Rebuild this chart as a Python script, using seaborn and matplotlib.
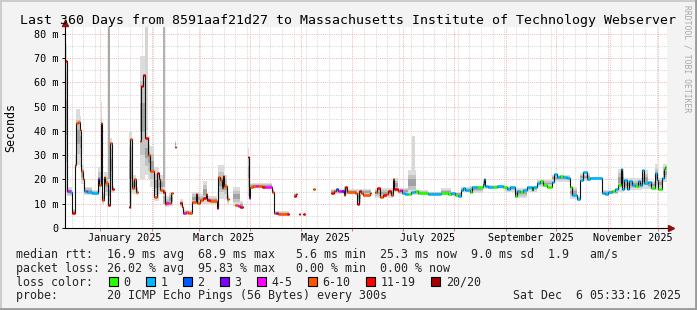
import numpy as np
import pandas as pd
import matplotlib
matplotlib.use("Agg")
import matplotlib.pyplot as plt
import matplotlib.dates as mdates
import matplotlib.transforms as mtrans
from matplotlib.ticker import MultipleLocator, FuncFormatter, NullFormatter
from matplotlib.collections import LineCollection, PolyCollection
from matplotlib.patches import Rectangle
from matplotlib.lines import Line2D
import seaborn as sns

# ---------------- data ----------------
START = pd.Timestamp("2024-12-11 05:33:16")
SPAN_DAYS = 360

# median rtt steps: start day (since START), value in ms (nan = no data), lost pings of 20
med_day = [0.0, 1.3, 2.8, 4.0, 5.6, 6.4, 7.6, 8.8, 9.4, 10.8, 11.2, 12.4, 13.0, 16.0, 19.3, 20.2,
           21.1, 22.0, 23.3, 23.9, 25.4, 27.0, 27.9, 29.4, 38.3, 38.7, 40.2, 41.4, 42.3, 43.5,
           44.7, 45.5, 46.7, 47.9, 49.5, 50.7, 53.1, 54.6, 55.9, 56.9, 58.4, 59.5, 60.5, 62.2,
           63.4, 64.4, 65.5, 66.1, 68.6, 70.1, 70.7, 72.2, 73.7, 75.8, 77.9, 78.5, 80.3, 82.1,
           84.2, 84.9, 86.6, 91.0, 91.6, 92.8, 93.7, 94.3, 95.1, 96.6, 98.2, 101.5, 103.5, 104.5,
           106.3, 109.3, 109.8, 110.8, 112.6, 114.1, 115.3, 117.7, 119.5, 123.9, 124.8, 126.3,
           127.2, 132.6, 133.8, 136.8, 138.0, 138.9, 139.8, 140.4, 142.2, 143.4, 148.2, 149.1,
           158.8, 160.7, 162.1, 163.1, 164.7, 166.9, 167.3, 168.7, 173.5, 174.7, 175.9, 176.7,
           178.1, 182.1, 182.7, 185.4, 186.6, 188.4, 190.1, 192.0, 193.0, 194.8, 196.0, 196.6,
           199.0, 200.0, 201.4, 203.2, 205.0, 206.8, 209.2, 211.0, 217.0, 220.0, 224.7, 228.9,
           230.9, 233.1, 234.9, 236.7, 237.9, 239.1, 242.1, 243.3, 246.3, 249.9, 250.8, 251.2,
           252.9, 255.9, 258.2, 261.8, 264.2, 266.0, 269.0, 270.4, 272.0, 274.0, 276.2, 279.2,
           280.0, 282.2, 284.0, 285.9, 288.2, 291.1, 292.5, 294.0, 295.9, 297.9, 299.9, 301.9,
           302.9, 305.9, 307.9, 309.9, 311.9, 313.9, 320.9, 322.9, 324.8, 326.9, 328.8, 330.8,
           332.4, 333.2, 334.4, 335.8, 337.2, 338.8, 340.8, 342.4, 343.8, 345.2, 346.2, 348.4,
           350.4, 352.8, 353.8, 354.7, 356.8, 358.1, 358.7]
nan = float("nan")
med_ms = [68.9, 15.4, 15.0, 6.3, 25.9, 43.3, 43.7, 40.3, 23.5, 20.2, 15.4, 15.1, 14.8, 14.5, 20.2, 17.7,
          43.3, 11.5, 21.1, 18.4, 9.5, 34.9, 15.9, nan, 8.8, 36.9, 16.6, 20.2, 15.0, nan,
          35.8, 58.4, 63.0, 37.2, 30.0, 23.6, 12.6, 22.5, 20.4, 15.5, 15.0, 9.7, 10.4, 10.4,
          14.5, nan, 33.5, nan, 10.2, 8.5, 6.3, 6.5, 6.0, 10.8, 13.9, 10.2, 11.5, 12.2,
          14.0, 11.5, 11.1, 8.1, 20.9, 19.8, 16.3, 21.4, 17.3, 11.8, nan, 9.5, 9.1, 8.7,
          nan, 29.3, 12.2, 17.0, 17.3, 17.5, 17.3, 16.7, 17.0, 15.0, 6.0, 6.3,
          5.6, 5.6, nan, 13.3, 13.9, nan, 5.7, nan, 5.7, nan, 15.9, nan,
          14.5, 15.2, 16.0, 15.4, 15.2, 13.8, 17.0, 15.0, 14.5, 9.9, 15.2, 14.5,
          13.6, 14.5, nan, 15.0, 16.3, 12.9, 13.6, 14.2, 15.2, 13.6, 20.4, 16.0,
          15.2, 15.6, 14.5, 14.2, 14.0, 14.8, 15.2, 14.5, 13.9, 14.2, 14.6, 14.0,
          14.5, 13.6, 13.4, 15.6, 16.3, 15.6, 15.0, 16.7, 16.7, 18.0, 20.4, 17.3,
          16.7, 17.0, 17.4, 17.1, 15.9, 17.0, 13.2, 15.4, 15.0, 15.6, 16.7, 15.6,
          17.1, 18.7, 19.3, 17.8, 17.1, 19.0, 22.1, 21.1, 21.5, 21.1, 20.7, 16.7,
          13.6, 11.8, 19.8, 22.9, 20.4, 20.7, 14.3, 14.0, 14.7, 15.4, 16.2, 17.7,
          24.2, 16.2, 19.8, 16.2, 19.2, 17.7, 17.4, 19.2, 17.7, 23.9, 18.4, 19.0,
          16.5, 22.5, 19.8, 16.2, 20.7, 24.2, 25.3]
med_loss = [15, 4, 1, 15, 8, 8, 8, 8, 8, 8, 1, 4, 1, 1, 3, 8,
            8, 8, 8, 8, 15, 8, 15, 0, 15, 8, 8, 8, 8, 0,
            8, 15, 15, 15, 8, 8, 8, 15, 8, 8, 15, 8, 4, 8,
            8, 0, 8, 0, 15, 8, 4, 8, 8, 8, 15, 8, 8, 15,
            8, 15, 8, 15, 8, 8, 8, 15, 8, 8, 0, 8, 4, 15,
            0, 15, 4, 8, 8, 4, 8, 15, 4, 8, 8, 3,
            8, 15, 0, 15, 8, 0, 15, 0, 15, 0, 8, 0,
            15, 8, 2, 4, 3, 8, 15, 8, 8, 15, 15, 8,
            8, 8, 0, 8, 15, 8, 15, 8, 15, 8, 8, 15,
            8, 4, 1, 1, 0, 1, 0, 0, 1, 1, 0, 0,
            1, 0, 1, 1, 1, 1, 0, 1, 0, 1, 1, 1,
            1, 0, 1, 0, 1, 1, 0, 1, 0, 1, 1, 0,
            1, 1, 0, 0, 0, 1, 1, 1, 0, 1, 1, 0,
            1, 1, 1, 1, 1, 1, 1, 1, 1, 0, 1, 0,
            1, 1, 1, 1, 1, 1, 0, 1, 1, 1, 1, 1,
            0, 1, 1, 0, 1, 0, 0]

# smoke (spread of the 20 pings): start day, low ms, high ms (nan = none)
smoke_day = [0.0, 1.3, 4.0, 5.6, 6.4, 8.8, 9.4, 11.2, 16.0, 19.3, 21.1, 22.0, 23.3, 25.4, 26.9,
             27.9, 29.4, 38.3, 40.2, 42.3, 43.5, 44.7, 47.9, 49.5, 50.7, 53.1, 55.9, 58.4, 59.5,
             62.2, 64.4, 65.5, 66.1, 68.6, 70.7, 75.8, 80.3, 82.1, 84.9, 91.0, 91.6, 95.1, 96.6,
             98.2, 100.3, 104.5, 106.3, 109.3, 110.2, 123.9, 124.8, 133.8, 136.8, 138.9, 158.8,
             166.6, 168.7, 174.5, 176.7, 182.7, 185.4, 196.0, 199.0, 205.0, 209.8, 217.0, 224.7,
             230.7, 236.7, 242.1, 249.9, 251.7, 263.0, 269.0, 276.2, 282.2, 291.1, 301.9, 306.1,
             307.9, 313.9, 320.9, 330.6, 334.2, 345.0, 348.6, 352.8, 354.5, 357.5]
smoke_lo = [15, 13, 5.5, 15, 26, 25, 18, 13.5, 13.5, 15, 18, 10, 13, 9, 15,
            14.5, nan, 8, 14, 13.5, nan, 20, 22, 20, 17, 11, 14, 13, 8.5,
            9, nan, 33, nan, 8.5, 5.5, 9.5, 10, 10, 10, 7.5, 12, 12, 10,
            nan, 9, 8, nan, 13, 16.5, 14, 5.3, nan, 13, nan, 14,
            13.5, 14, 9.5, 13.5, nan, 12.5, 15, 14, 13.5, 13.5, 13.5, 13.5,
            13, 15, 14.5, 16, 16, 15, 12.5, 15, 17, 19, 12, 11,
            19.5, 20, 14, 15, 15.5, 16, 16, 15.5, 16, 19]
smoke_hi = [76, 17, 8, 30, 49, 46, 26, 17, 15.5, 25, 52, 15, 23, 20, 37,
            17.5, nan, 40, 22, 17, nan, 71, 40, 38, 34, 25, 22, 17, 13,
            15, nan, 36, nan, 12, 7.5, 15, 14, 19.5, 13, 12, 26, 22, 14,
            nan, 17, 11, nan, 33, 18.5, 16, 7, nan, 14.5, nan, 16,
            17.5, 16, 16, 16, nan, 16.5, 20.5, 16.5, 24, 15.5, 15, 16.3,
            15, 16.8, 17.5, 20.4, 17.8, 17.5, 16.5, 17.5, 19.8, 22, 17, 13,
            22.5, 21.2, 15.5, 24.5, 20.5, 24, 19.5, 26.5, 20.5, 26.5]

# tall smoke columns (pings far above the scale)
spike_start = [25.6, 47.9, 58.6, 207.7]
spike_end = [26.9, 49.7, 59.6, 209.5]
spike_lo = [9.5, 25.0, 10.0, 15.0]
spike_hi = [90.0, 90.0, 90.0, 37.9]

loss_labels = ["0", "1", "2", "3", "4-5", "6-10", "11-19", "20/20"]
loss_upper = [0, 1, 2, 3, 5, 10, 19, 20]
loss_colors = ["#26ff00", "#00b8ff", "#0059ff", "#7e00ff", "#ff00ff", "#ff5500", "#ff0000", "#a10000"]

month_labels = ["January 2025", "March 2025", "May 2025", "July 2025", "September 2025", "November 2025"]
month_label_dates = ["2025-01-16", "2025-03-16", "2025-05-16", "2025-07-16", "2025-09-16", "2025-11-16"]

title = "Last 360 Days from 8591aaf21d27 to Massachusetts Institute of Technology Webserver"
line_rtt = "median rtt:  16.9 ms avg  68.9 ms max   5.6 ms min  25.3 ms now  9.0 ms sd  1.9   am/s"
line_loss = "packet loss: 26.02 % avg  95.83 % max   0.00 % min  0.00 % now"
line_probe = "probe:       20 ICMP Echo Pings (56 Bytes) every 300s"
stamp = "Sat Dec  6 05:33:16 2025"

# ---------------- figure ----------------
sns.set_theme(style="white")
plt.rcParams["font.family"] = ["DejaVu Sans Mono", "DejaVu Sans"]
W, H = 697, 310
fig = plt.figure(figsize=(W / 100, H / 100), dpi=100, facecolor="#f3f3f3")
fx = lambda px: px / W
fy = lambda py: 1 - py / H

L, R, T, B = 65.3, 667.0, 26.7, 228.0
ax = fig.add_axes([fx(L), fy(B), (R - L) / W, (B - T) / H])
ax.set_facecolor("white")
x0 = mdates.date2num(START)
x1 = x0 + SPAN_DAYS

# spikes
sp_polys = []
for s, e, lo, hi in zip(spike_start, spike_end, spike_lo, spike_hi):
    a, b = x0 + s, x0 + e
    sp_polys.append([(a, lo), (b, lo), (b, hi), (a, hi)])
ax.add_collection(PolyCollection(sp_polys, facecolors=["#a9a9a9", "#d4d4d4", "#b2b2b2", "#d8d8d8"],
                                 edgecolors="none", zorder=2))

# smoke, drawn in nested shades
sm_t = x0 + np.asarray(smoke_day, float)
sm_e = np.append(sm_t[1:], x1)
lo_a = np.asarray(smoke_lo, float)
hi_a = np.asarray(smoke_hi, float)
for f, c in [(0.0, "#dcdcdc"), (0.2, "#c4c4c4"), (0.38, "#a2a2a2")]:
    polys = []
    for a, b, lo, hi in zip(sm_t, sm_e, lo_a, hi_a):
        if np.isnan(lo):
            continue
        l2 = lo + f * (hi - lo)
        h2 = hi - f * (hi - lo)
        polys.append([(a, l2), (b, l2), (b, h2), (a, h2)])
    ax.add_collection(PolyCollection(polys, facecolors=c, edgecolors="none", zorder=2.5))

# median line (black step) via seaborn
med_t = x0 + np.asarray(med_day, float)
med_e = np.append(med_t[1:], x1)
med_v = np.asarray(med_ms, float)
rows = []
seg = 0
for a, b, v in zip(med_t, med_e, med_v):
    if np.isnan(v):
        seg += 1
        continue
    rows.append((seg, a, v))
    rows.append((seg, b, v))
df = pd.DataFrame(rows, columns=["seg", "t", "ms"])
sns.lineplot(data=df, x="t", y="ms", units="seg", estimator=None, sort=False,
             color="#111111", lw=0.8, ax=ax, legend=False, zorder=3)


def loss_idx(n):
    for i, u in enumerate(loss_upper):
        if n <= u:
            return i
    return len(loss_upper) - 1


segs, cols = [], []
for a, b, v, n in zip(med_t, med_e, med_v, med_loss):
    if np.isnan(v):
        continue
    segs.append([(a, v), (b, v)])
    cols.append(loss_colors[loss_idx(n)])
ax.add_collection(LineCollection(segs, colors=cols, linewidths=1.9, capstyle="butt", zorder=4))

ax.set_xlim(x0, x1)
ax.set_ylim(0, 83)
ax.set_xlabel("")
ax.set_ylabel("")

# grid
ax.xaxis.set_major_locator(mdates.MonthLocator())
ax.xaxis.set_minor_locator(mdates.WeekdayLocator(byweekday=mdates.SU))
ax.xaxis.set_major_formatter(NullFormatter())
ax.yaxis.set_major_locator(MultipleLocator(10))
ax.yaxis.set_minor_locator(MultipleLocator(5))
ax.yaxis.set_major_formatter(FuncFormatter(lambda v, p: "0" if v == 0 else f"{int(v)} m"))
ax.set_axisbelow(True)
ax.grid(which="minor", color="#d6d6d6", linestyle=(0, (1, 1.2)), linewidth=0.72)
ax.grid(which="major", color="#f5b4b4", linestyle=(0, (1, 1.2)), linewidth=0.72)
ax.tick_params(axis="y", which="major", length=2.2, width=0.7, color="black", pad=2.9,
               labelsize=7.3, labelcolor="black", left=True)
ax.tick_params(axis="x", which="major", length=2.2, width=0.7, color="#e07070", bottom=True)
ax.tick_params(which="minor", length=0)
for s in ["top", "right"]:
    ax.spines[s].set_visible(False)
for s in ["left", "bottom"]:
    ax.spines[s].set_color("black")
    ax.spines[s].set_linewidth(0.8)
    ax.spines[s].set_zorder(5)

# axis arrows
ax.plot([1.006], [0], marker=">", ms=4.5, color="#8b1010", transform=ax.transAxes, clip_on=False, zorder=6)
ax.plot([0], [1.017], marker="^", ms=4.5, color="#8b1010", transform=ax.transAxes, clip_on=False, zorder=6)

# month labels
blend = mtrans.blended_transform_factory(ax.transData, fig.transFigure)
for lab, d in zip(month_labels, month_label_dates):
    ax.text(mdates.date2num(pd.Timestamp(d)), fy(237.7), lab, transform=blend,
            ha="center", va="center", fontsize=7.3, color="black")

# texts
fig.text(0.5, fy(24), title, ha="center", va="baseline", fontsize=9.5, color="black")
fig.text(fx(10.5), fy(127), "Seconds", rotation=90, ha="center", va="center", fontsize=8.4, color="black")
fig.text(fx(687), fy(5), "RRDTOOL / TOBI OETIKER", rotation=270, ha="center", va="top",
         fontsize=5.8, color="#a8a8a8")

lf = 8.4
fig.text(fx(16), fy(258.3), line_rtt, ha="left", va="baseline", fontsize=lf)
fig.text(fx(16), fy(272.0), line_loss, ha="left", va="baseline", fontsize=lf)
fig.text(fx(16), fy(285.7), "loss color:", ha="left", va="baseline", fontsize=lf)
fig.text(fx(16), fy(299.3), line_probe, ha="left", va="baseline", fontsize=lf)
fig.text(fx(681), fy(299.3), stamp, ha="right", va="baseline", fontsize=lf)

label_px = [123.5, 160.5, 197.5, 234.5, 271.5, 322.5, 380.5, 446.0]
for lx, lab, c in zip(label_px, loss_labels, loss_colors):
    fig.patches.append(Rectangle((fx(lx - 15), fy(286.2)), 9 / W, 9 / H, transform=fig.transFigure,
                                 facecolor=c, edgecolor="black", linewidth=0.8))
    fig.text(fx(lx), fy(285.7), lab, ha="left", va="baseline", fontsize=lf)

# frame
fig.add_artist(Line2D([0, 1], [fy(0.75), fy(0.75)], color="#cbcbcb", lw=1.4, transform=fig.transFigure))
fig.add_artist(Line2D([fx(0.75), fx(0.75)], [0, 1], color="#cbcbcb", lw=1.4, transform=fig.transFigure))
fig.add_artist(Line2D([0, 1], [fy(308.8), fy(308.8)], color="#9a9a9a", lw=2.0, transform=fig.transFigure))
fig.add_artist(Line2D([fx(695.8), fx(695.8)], [0, 1], color="#9a9a9a", lw=2.0, transform=fig.transFigure))

fig.savefig("out.png", dpi=100, facecolor=fig.get_facecolor())
